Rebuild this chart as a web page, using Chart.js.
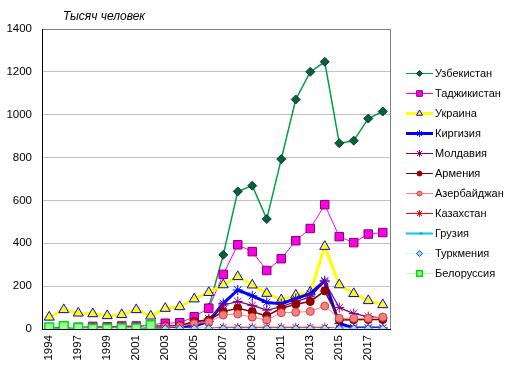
<!DOCTYPE html>
<html><head><meta charset="utf-8">
<script src="https://cdn.jsdelivr.net/npm/chart.js@4/dist/chart.umd.min.js"></script>
<style>html,body{margin:0;padding:0;background:#fff;}canvas{display:block;}</style>
</head><body>
<canvas id="c" width="514" height="374"></canvas>
<script>
// ---- data ----
const categories = ['1994','1996','1997','1998','1999','2000','2001','2002','2003','2004','2005','2006','2007','2008','2009','2010','2011','2012','2013','2014','2015','2016','2017','2018'];
const seriesNames = ['Узбекистан','Таджикистан','Украина','Киргизия','Молдавия','Армения','Азербайджан','Казахстан','Грузия','Туркмения','Белоруссия'];
const uzbekistan   = [null,null,null,null,null,null,null,null,null,null,null,100,346,642,669,513,793,1071,1200,1247,867,879,982,1015];
const tajikistan   = [3,4,8,12,10,14,14,20,27,29,57,97,255,393,361,273,328,412,469,580,431,403,443,450];
const ukraine      = [55,90,74,71,62,67,90,60,96,104,140,170,206,244,205,166,136,158,172,385,206,165,132,113];
const kyrgyzstan   = [2,2,2,3,3,3,4,5,6,8,15,35,120,182,155,124,118,142,165,225,25,6,5,5];
const moldova      = [2,3,4,6,6,8,8,15,14,16,28,48,112,128,110,88,104,128,150,220,100,72,58,52];
const armenia      = [3,4,5,6,6,7,8,10,12,15,35,42,81,97,81,61,97,115,128,178,42,43,44,44];
const azerbaijan   = [2,3,4,5,5,6,6,8,10,12,25,32,65,70,55,42,76,78,82,107,50,50,50,55];
const kazakhstan   = [2,2,2,2,2,2,2,3,3,3,3,3,8,8,8,8,8,8,8,8,3,3,3,3];
const georgia      = [1,1,1,1,1,1,1,1,1,1,1,1,1,1,1,1,1,1,1,1,1,1,1,1];
const turkmenistan = [null,null,null,null,null,null,null,null,2,2,2,2,2,2,2,2,2,2,2,2,2,2,2,2];
const belarus      = [8,13,5,2,2,3,3,18,null,null,null,null,null,null,null,null,null,null,null,null,null,null,null,null];
const yTickValues  = [0,200,400,600,800,1000,1200,1400];
const titleText    = 'Тысяч человек';

const seriesData = [uzbekistan,tajikistan,ukraine,kyrgyzstan,moldova,armenia,azerbaijan,kazakhstan,georgia,turkmenistan,belarus];

// ---- styles ----
const FONT = '"Liberation Sans", Arial, sans-serif';
const styles = [
  {line:'#00a040', lw:1.5, ps:'rectRot',  r:4.5, fill:'#006a1e', stroke:'#1a237e', bw:1, lr:3,   llw:1},
  {line:'#ff00ff', lw:1,   ps:'rect',     r:6,   fill:'#ff00dd', stroke:'#800080', bw:1, lr:4,   llw:1},
  {line:'#ffff00', lw:3,   ps:'triangle', r:5.8, fill:'#ffff00', stroke:'#0000ff', bw:1, lr:3.5, llw:3},
  {line:'#0000ff', lw:3,   ps:'star',     r:5,   fill:'#0000ff', stroke:'#0000ff', bw:1, lr:3.5, llw:3},
  {line:'#800080', lw:1.2, ps:'star',     r:5,   fill:'#800080', stroke:'#800080', bw:1, lr:3.5, llw:1},
  {line:'#800000', lw:1.5, ps:'circle',   r:4,   fill:'#9a0000', stroke:'#800000', bw:1, lr:2.5, llw:1},
  {line:'#ff8080', lw:1,   ps:'circle',   r:4,   fill:'#f47f7f', stroke:'#d04040', bw:1, lr:2.5, llw:1},
  {line:'#ff0000', lw:1,   ps:'star',     r:4.5, fill:'#ff0000', stroke:'#ff0000', bw:1, lr:3.5, llw:1},
  {line:'#00c8ff', lw:2,   ps:'dash',     r:3,   fill:'#00a0f0', stroke:'#00a0f0', bw:2, lr:3,   llw:2},
  {line:'#ccffff', lw:1,   ps:'rectRot',  r:3.8, fill:'#99ddff', stroke:'#2040d0', bw:1, lr:3,   llw:1},
  {line:'#bbffbb', lw:1,   ps:'rect',     r:6.2, fill:'#99ff99', stroke:'#00e000', bw:1.5, lr:4, llw:1}
];

const datasets = seriesData.map((data, i) => ({
  label: seriesNames[i],
  data: data,
  order: -i,
  borderColor: styles[i].line,
  borderWidth: styles[i].lw,
  backgroundColor: styles[i].fill,
  pointStyle: styles[i].ps,
  pointRadius: styles[i].r,
  pointBackgroundColor: styles[i].fill,
  pointBorderColor: styles[i].stroke,
  pointBorderWidth: styles[i].bw,
  tension: 0,
  fill: false,
  spanGaps: false
}));

function drawMarker(ctx, s, x, y, r) {
  ctx.save();
  ctx.fillStyle = s.fill;
  ctx.strokeStyle = s.stroke;
  ctx.lineWidth = s.bw;
  if (Chart.helpers && Chart.helpers.drawPoint) {
    Chart.helpers.drawPoint(ctx, {pointStyle: s.ps, rotation: 0, radius: r, borderWidth: s.bw}, x, y);
  }
  ctx.restore();
}

const decor = {
  id: 'decor',
  beforeDatasetsDraw(chart) {
    const {ctx, chartArea: a} = chart;
    ctx.save();
    ctx.strokeStyle = '#808080';
    ctx.lineWidth = 1;
    const x = Math.round(a.right) + 0.5;
    ctx.beginPath();
    ctx.moveTo(x, a.top);
    ctx.lineTo(x, a.bottom);
    ctx.stroke();
    ctx.restore();
  },
  afterDraw(chart) {
    const ctx = chart.ctx;
    ctx.save();
    // title
    ctx.fillStyle = '#000';
    ctx.font = 'italic 12px ' + FONT;
    ctx.textBaseline = 'alphabetic';
    ctx.textAlign = 'left';
    ctx.fillText(titleText, 63, 20);
    // legend
    ctx.font = '11px ' + FONT;
    ctx.textBaseline = 'middle';
    seriesNames.forEach((name, i) => {
      const s = styles[i];
      const y = 73 + i * 20;
      ctx.strokeStyle = s.line;
      ctx.lineWidth = s.llw;
      ctx.beginPath();
      ctx.moveTo(406, y + 0.5);
      ctx.lineTo(433, y + 0.5);
      ctx.stroke();
      drawMarker(ctx, s, 419.5, y + 0.5, s.lr);
      ctx.fillStyle = '#000';
      ctx.fillText(name, 435, y + 1);
    });
    ctx.restore();
  }
};

new Chart(document.getElementById('c'), {
  type: 'line',
  data: {labels: categories, datasets: datasets},
  plugins: [decor],
  options: {
    responsive: false,
    animation: false,
    devicePixelRatio: 1,
    layout: {padding: {left: 0, top: 29, right: 124, bottom: 0}},
    plugins: {legend: {display: false}, title: {display: false}, tooltip: {enabled: false}},
    elements: {line: {borderCapStyle: 'butt', borderJoinStyle: 'round'}},
    scales: {
      x: {
        type: 'category',
        offset: true,
        grid: {color: 'rgba(0,0,0,0)', drawTicks: false},
        border: {color: '#000', width: 1},
        ticks: {
          autoSkip: false, maxRotation: 90, minRotation: 90, padding: 6,
          color: '#000', font: {family: FONT, size: 11.5},
          callback: function(value, index) { return index % 2 === 0 ? categories[index] : ''; }
        },
        afterFit(scale) { scale.height = 45; }
      },
      y: {
        min: 0, max: 1400,
        afterBuildTicks(scale) { scale.ticks = yTickValues.map(v => ({value: v})); },
        grid: {
          drawTicks: false,
          color: (c) => c.tick.value === 1400 ? '#808080' : (c.tick.value === 0 ? 'rgba(0,0,0,0)' : '#c0c0c0')
        },
        border: {color: '#000', width: 1},
        ticks: {
          padding: 10, color: '#000', font: {family: FONT, size: 11.5},
          callback: (v) => String(v)
        },
        afterFit(scale) { scale.width = 42; }
      }
    }
  }
});
</script>
</body></html>
